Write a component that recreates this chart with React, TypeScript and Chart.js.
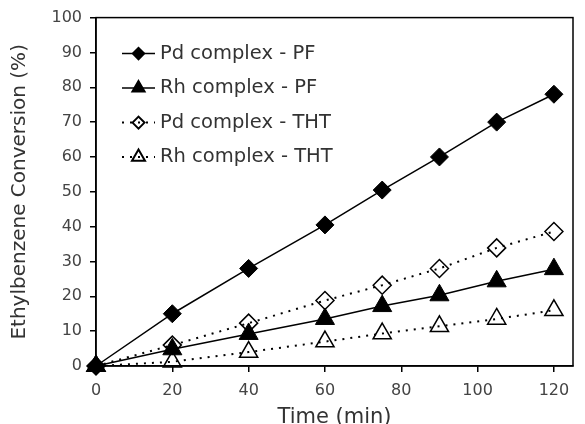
import React, { useEffect, useRef } from 'react';
import { Chart, registerables } from 'chart.js';
import { drawPoint } from 'chart.js/helpers';

Chart.register(...registerables);

// Reaction time (min)
const timeMin = [0, 20, 40, 60, 75, 90, 105, 120];

// Ethylbenzene conversion (%) for each catalyst / support
const pdPF = [0, 15, 28, 40.5, 50.5, 60, 70, 78];
const rhPF = [0, 4.8, 9.2, 13.5, 17.2, 20.3, 24.3, 27.8];
const pdTHT = [0, 6, 12.3, 18.8, 23.2, 28, 33.9, 38.6];
const rhTHT = [0, 1.2, 4, 7, 9.3, 11.4, 13.5, 16];

const seriesLabels = ['Pd complex - PF', 'Rh complex - PF', 'Pd complex - THT', 'Rh complex - THT'];

const xTitle = 'Time (min)';
const yTitle = 'Ethylbenzene Conversion (%)';

const FONT = "'DejaVu Sans', 'Liberation Sans', sans-serif";

const toPoints = (ys: number[]) => ys.map((y, i) => ({ x: timeMin[i], y }));

// Box around the plotting area
const framePlugin = {
  id: 'plotFrame',
  beforeDatasetsDraw(chart: any) {
    const { ctx, chartArea } = chart;
    ctx.save();
    ctx.strokeStyle = '#000';
    ctx.lineWidth = 1.5;
    ctx.strokeRect(chartArea.left, chartArea.top, chartArea.right - chartArea.left, chartArea.bottom - chartArea.top);
    ctx.restore();
  },
};

// Legend drawn inside the plot, each entry a line sample with its marker
const insetLegendPlugin = {
  id: 'insetLegend',
  afterDatasetsDraw(chart: any) {
    const { ctx, chartArea } = chart;
    const lineStart = chartArea.left + 26;
    const lineEnd = chartArea.left + 59;
    const markerX = (lineStart + lineEnd) / 2;
    const textX = chartArea.left + 64;
    const firstRow = chartArea.top + 36;
    const rowGap = 34.5;
    chart.data.datasets.forEach((ds: any, i: number) => {
      const y = firstRow + i * rowGap;
      ctx.save();
      ctx.strokeStyle = ds.borderColor;
      ctx.lineWidth = ds.borderWidth;
      ctx.setLineDash(ds.borderDash || []);
      ctx.beginPath();
      ctx.moveTo(lineStart, y);
      ctx.lineTo(lineEnd, y);
      ctx.stroke();
      ctx.setLineDash([]);
      ctx.fillStyle = ds.pointBackgroundColor;
      ctx.strokeStyle = ds.pointBorderColor;
      drawPoint(ctx, {
        pointStyle: ds.pointStyle,
        radius: ds.pointStyle === 'triangle' ? 7.5 : 6,
        rotation: 0,
        borderWidth: ds.pointBorderWidth,
      } as any, markerX, y);
      ctx.fillStyle = '#333';
      ctx.font = `19.5px ${FONT}`;
      ctx.textBaseline = 'middle';
      ctx.textAlign = 'left';
      ctx.fillText(ds.label, textX, y);
      ctx.restore();
    });
  },
};

export default function App() {
  const canvasRef = useRef<HTMLCanvasElement | null>(null);

  useEffect(() => {
    if (!canvasRef.current) return;
    const chart = new Chart(canvasRef.current, {
      type: 'line',
      data: {
        datasets: [
          {
            label: seriesLabels[0],
            data: toPoints(pdPF),
            borderColor: '#000',
            borderWidth: 1.5,
            pointStyle: 'rectRot',
            pointRadius: 9,
            pointBackgroundColor: '#000',
            pointBorderColor: '#000',
            pointBorderWidth: 1,
          },
          {
            label: seriesLabels[1],
            data: toPoints(rhPF),
            borderColor: '#000',
            borderWidth: 1.5,
            pointStyle: 'triangle',
            pointRadius: 11,
            pointBackgroundColor: '#000',
            pointBorderColor: '#000',
            pointBorderWidth: 1,
          },
          {
            label: seriesLabels[2],
            data: toPoints(pdTHT),
            borderColor: '#000',
            borderWidth: 2,
            borderDash: [2, 6],
            pointStyle: 'rectRot',
            pointRadius: 9,
            pointBackgroundColor: 'rgba(0,0,0,0)',
            pointBorderColor: '#000',
            pointBorderWidth: 1.5,
          },
          {
            label: seriesLabels[3],
            data: toPoints(rhTHT),
            borderColor: '#000',
            borderWidth: 2,
            borderDash: [2, 6],
            pointStyle: 'triangle',
            pointRadius: 10.5,
            pointBackgroundColor: 'rgba(0,0,0,0)',
            pointBorderColor: '#000',
            pointBorderWidth: 1.5,
          },
        ],
      },
      options: {
        responsive: false,
        animation: false,
        devicePixelRatio: 1,
        clip: false as any,
        layout: { padding: { left: 0, top: 14, right: 12, bottom: 0 } },
        elements: { line: { tension: 0, fill: false }, point: { hoverRadius: 9 } },
        plugins: {
          legend: { display: false },
          tooltip: { enabled: false },
        },
        scales: {
          x: {
            type: 'linear',
            min: 0,
            max: 125,
            afterFit(scale: any) {
              scale.height = 58;
            },
            ticks: {
              stepSize: 20,
              includeBounds: false,
              maxRotation: 0,
              padding: 9,
              color: '#444',
              font: { family: FONT, size: 16 },
            },
            grid: { drawOnChartArea: false, drawTicks: true, tickLength: 6, color: '#000', lineWidth: 1.5 },
            border: { color: '#000', width: 1.5 },
            title: {
              display: true,
              text: xTitle,
              color: '#333',
              font: { family: FONT, size: 21 },
              padding: { top: 0, bottom: -6 },
            },
          },
          y: {
            type: 'linear',
            min: 0,
            max: 100,
            afterFit(scale: any) {
              scale.width = 96;
            },
            ticks: {
              stepSize: 10,
              padding: 8,
              color: '#444',
              font: { family: FONT, size: 16 },
            },
            grid: { drawOnChartArea: false, drawTicks: true, tickLength: 6, color: '#000', lineWidth: 1.5 },
            border: { color: '#000', width: 1.5 },
            title: {
              display: true,
              text: yTitle,
              color: '#333',
              font: { family: FONT, size: 20 },
              padding: { top: 8, bottom: 0 },
            },
          },
        },
      },
      plugins: [framePlugin, insetLegendPlugin],
    } as any);
    return () => chart.destroy();
  }, []);

  return (
    <div style={{ position: 'fixed', left: 0, top: 0, width: 585, height: 424, background: '#fff' }}>
      <canvas ref={canvasRef} width={585} height={424} style={{ display: 'block' }} />
    </div>
  );
}
